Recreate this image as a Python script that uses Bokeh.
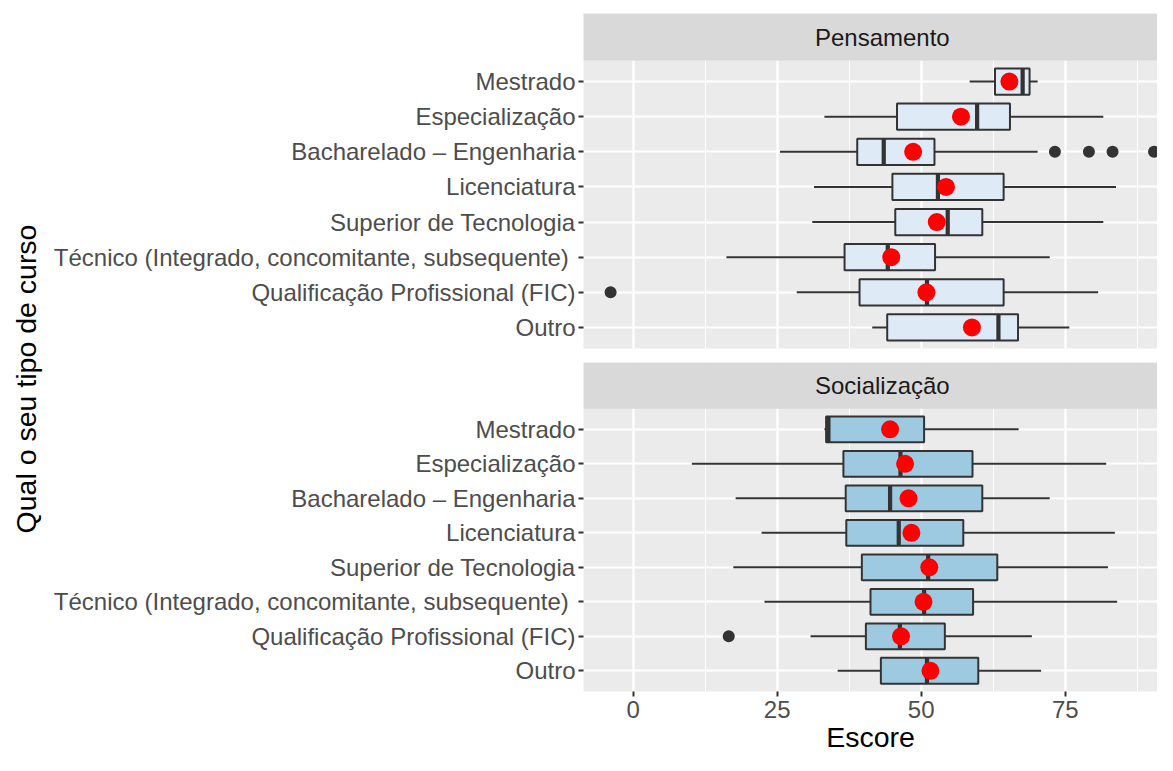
import math
from bokeh.plotting import figure
from bokeh.models import (Range1d, FixedTicker, SingleIntervalTicker, BoxAnnotation,
                          Label, ColumnDataSource)
from bokeh.layouts import row, column
from bokeh.embed import file_html
from bokeh.resources import INLINE

# ---------------- data ----------------
categories = [
    "Mestrado",
    "Especialização",
    "Bacharelado – Engenharia",
    "Licenciatura",
    "Superior de Tecnologia",
    "Técnico (Integrado, concomitante, subsequente) ",
    "Qualificação Profissional (FIC)",
    "Outro",
]
cat_pos = [8, 7, 6, 5, 4, 3, 2, 1]

x_ticks = [0, 25, 50, 75]

# Pensamento
pens_wlo = [58.4, 33.2, 25.5, 31.4, 31.1, 16.2, 28.4, 41.5]
pens_q1 = [62.8, 45.8, 38.9, 45.0, 45.5, 36.7, 39.3, 44.1]
pens_med = [67.6, 59.7, 43.5, 52.9, 54.6, 44.2, 51.0, 63.4]
pens_q3 = [68.8, 65.4, 52.3, 64.3, 60.6, 52.4, 64.3, 66.8]
pens_whi = [70.2, 81.6, 70.2, 83.8, 81.6, 72.3, 80.7, 75.7]
pens_mean = [65.3, 56.9, 48.6, 54.3, 52.7, 44.8, 50.9, 58.8]
pens_out_cat = ["Bacharelado – Engenharia"] * 4 + ["Qualificação Profissional (FIC)"]
pens_out_val = [73.2, 79.1, 83.2, 90.4, -3.9]

# Socialização
soc_wlo = [33.2, 10.2, 17.8, 22.3, 17.4, 22.8, 30.8, 35.5]
soc_q1 = [33.5, 36.5, 36.9, 37.0, 39.7, 41.2, 40.4, 43.0]
soc_med = [33.9, 46.4, 44.6, 46.1, 51.2, 50.5, 46.3, 51.0]
soc_q3 = [50.5, 58.9, 60.6, 57.3, 63.2, 59.0, 54.1, 59.9]
soc_whi = [66.9, 82.1, 72.3, 83.6, 82.4, 84.0, 69.2, 70.8]
soc_mean = [44.6, 47.2, 47.8, 48.3, 51.4, 50.4, 46.5, 51.6]
soc_out_cat = ["Qualificação Profissional (FIC)"]
soc_out_val = [16.6]

# ---------------- style / layout ----------------
FONT = "Liberation Sans"
X_LO, X_HI = -8.6, 91.0
X_HI_FULL = 95.1          # full ggplot panel extent (cropped in the original)
Y_LO, Y_HI = 0.4, 8.6
PANEL_PX = 288
STRIP_PX = 47
STRIP_UNITS = STRIP_PX / (PANEL_PX / (Y_HI - Y_LO))
FRAME_H = PANEL_PX + STRIP_PX
BOX_H = 0.75
YLAB_W = 50
LEFT_W = 533
PANEL_W = 1157 - YLAB_W - LEFT_W
TOP = 13
GAP = 14
BOTTOM = 58
TOTAL_H = TOP + FRAME_H + GAP + FRAME_H + BOTTOM
TICK_FS = "24px"
TITLE_FS = "28.5px"


def make_panel(title, wlo, q1, med, q3, whi, mean, out_cat, out_val, fill, show_x,
               height, top, bottom):
    pos = dict(zip(categories, cat_pos))
    src = ColumnDataSource(dict(
        y=cat_pos, wlo=wlo, q1=q1, med=med, q3=q3, whi=whi, mean=mean,
        ylo=[v - BOX_H / 2 for v in cat_pos], yhi=[v + BOX_H / 2 for v in cat_pos],
    ))
    p = figure(width=LEFT_W + PANEL_W, height=height,
               x_range=Range1d(X_LO, X_HI), y_range=Range1d(Y_LO, Y_HI + STRIP_UNITS),
               output_backend="svg", toolbar_location=None,
               x_axis_location="below" if show_x else None,
               min_border_left=LEFT_W, min_border_right=0, min_border_top=top,
               min_border_bottom=bottom,
               background_fill_color="#EBEBEB", border_fill_color="white",
               outline_line_color=None)

    # grids
    p.xgrid.ticker = SingleIntervalTicker(interval=25, num_minor_ticks=2)
    p.xgrid.grid_line_color = "white"
    p.xgrid.grid_line_width = 2.2
    p.xgrid.minor_grid_line_color = "white"
    p.xgrid.minor_grid_line_width = 1.1
    p.ygrid.ticker = FixedTicker(ticks=cat_pos)
    p.ygrid.grid_line_color = "white"
    p.ygrid.grid_line_width = 2.2

    # y axis
    p.yaxis.ticker = FixedTicker(ticks=cat_pos)
    p.yaxis.major_label_overrides = {v: c for v, c in zip(cat_pos, categories)}
    p.yaxis.axis_line_color = None
    p.yaxis.major_tick_in = 0
    p.yaxis.major_tick_out = 5
    p.yaxis.major_tick_line_color = "#333333"
    p.yaxis.major_tick_line_width = 2
    p.yaxis.minor_tick_line_color = None
    p.yaxis.major_label_text_font = FONT
    p.yaxis.major_label_text_font_size = TICK_FS
    p.yaxis.major_label_text_color = "#4D4D4D"
    p.yaxis.major_label_standoff = 3

    if show_x:
        p.xaxis.ticker = FixedTicker(ticks=x_ticks)
        p.xaxis.axis_line_color = None
        p.xaxis.major_tick_in = 0
        p.xaxis.major_tick_out = 5
        p.xaxis.major_tick_line_color = "#333333"
        p.xaxis.major_tick_line_width = 2
        p.xaxis.minor_tick_line_color = None
        p.xaxis.major_label_text_font = FONT
        p.xaxis.major_label_text_font_size = TICK_FS
        p.xaxis.major_label_text_color = "#4D4D4D"
        p.xaxis.major_label_standoff = 4
        p.xaxis.axis_label = "Escore"
        p.xaxis.axis_label_text_font = FONT
        p.xaxis.axis_label_text_font_size = TITLE_FS
        p.xaxis.axis_label_text_font_style = "normal"
        p.xaxis.axis_label_text_color = "black"
        p.xaxis.axis_label_standoff = 0

    # boxplots
    p.segment(x0="wlo", y0="y", x1="q1", y1="y", source=src,
              line_color="#333333", line_width=2)
    p.segment(x0="q3", y0="y", x1="whi", y1="y", source=src,
              line_color="#333333", line_width=2)
    p.hbar(y="y", left="q1", right="q3", height=BOX_H, source=src,
           fill_color=fill, line_color="#333333", line_width=2)
    p.segment(x0="med", y0="ylo", x1="med", y1="yhi", source=src,
              line_color="#333333", line_width=4.2)
    p.scatter(x=out_val, y=[pos[c] for c in out_cat], size=12,
              color="#333333", line_color=None)
    p.scatter(x="mean", y="y", source=src, size=18, color="red", line_color=None)

    # strip
    p.add_layout(BoxAnnotation(bottom=Y_HI, fill_color="#D9D9D9", fill_alpha=1,
                               line_color=None))
    p.add_layout(Label(x=(X_LO + X_HI_FULL) / 2, y=Y_HI + STRIP_UNITS / 2, text=title,
                       text_align="center", text_baseline="middle",
                       text_font=FONT, text_font_size=TICK_FS, text_color="#1A1A1A"))
    return p


H1 = TOP + FRAME_H + GAP
H2 = FRAME_H + BOTTOM

p1 = make_panel("Pensamento", pens_wlo, pens_q1, pens_med, pens_q3, pens_whi, pens_mean,
                pens_out_cat, pens_out_val, "#DEEBF7", False, H1, TOP, GAP)
p2 = make_panel("Socialização", soc_wlo, soc_q1, soc_med, soc_q3, soc_whi, soc_mean,
                soc_out_cat, soc_out_val, "#9ECAE1", True, H2, 0, BOTTOM)

ylab = figure(width=YLAB_W, height=TOTAL_H, x_range=Range1d(0, 1), y_range=Range1d(0, 1),
              x_axis_location=None, y_axis_location=None, min_border=0,
              outline_line_color=None, toolbar_location=None, output_backend="svg",
              background_fill_color="white", border_fill_color="white")
ylab.grid.visible = False
panels_mid = (TOP + STRIP_PX + TOTAL_H - BOTTOM) / 2
ylab.add_layout(Label(x=25 / YLAB_W, y=1 - panels_mid / TOTAL_H,
                      text="Qual o seu tipo de curso",
                      angle=math.pi / 2, text_align="center", text_baseline="middle",
                      text_font=FONT, text_font_size=TITLE_FS, text_color="black"))

layout = row(ylab, column(p1, p2))

open("out.html", "w").write(file_html(layout, INLINE))
